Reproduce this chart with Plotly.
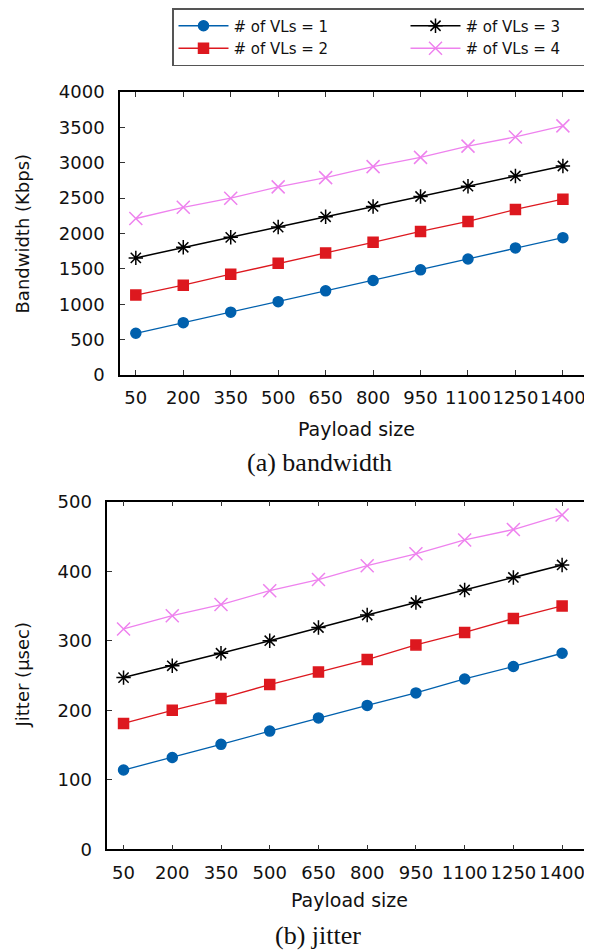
import plotly.graph_objects as go

payload = [50, 200, 350, 500, 650, 800, 950, 1100, 1250, 1400]
tick_labels = [str(p) for p in payload]

bw_vl1 = [590, 740, 888, 1037, 1190, 1336, 1486, 1640, 1796, 1941]
bw_vl2 = [1130, 1270, 1425, 1580, 1725, 1875, 2030, 2171, 2340, 2485]
bw_vl3 = [1655, 1805, 1946, 2091, 2236, 2382, 2523, 2668, 2813, 2954]
bw_vl4 = [2212, 2370, 2499, 2659, 2790, 2945, 3076, 3235, 3365, 3521]

jit_vl1 = [114, 132, 151, 170, 189, 207, 225, 245, 263, 282]
jit_vl2 = [181, 200, 217, 237, 255, 273, 294, 312, 332, 350]
jit_vl3 = [247, 264, 282, 300, 319, 337, 355, 373, 391, 409]
jit_vl4 = [317, 336, 352, 372, 388, 408, 425, 445, 460, 481]

series_names = ["# of VLs = 1", "# of VLs = 2", "# of VLs = 3", "# of VLs = 4"]
colors = ["#0060ad", "#dd181f", "#000000", "#ee82ee"]
symbols = ["circle", "square", "asterisk-open", "x-thin-open"]
msizes = [10, 10, 12, 13]
lwidths = [1.3, 1.3, 1.5, 1.3]
ranks = [1, 3, 2, 4]

# page is rendered with the default 8px body margin; work in page pixels
OFF = 8
W, H = 592 - OFF, 950 - OFF
FONT = "DejaVu Sans"

def fx(px):
    return (px - OFF) / W

def fy(py):
    return 1 - (py - OFF) / H

fig = go.Figure()

def add_series(values_list, xa, ya, show):
    for i, vals in enumerate(values_list):
        fig.add_trace(go.Scatter(
            x=payload, y=vals, name=series_names[i], mode="lines+markers",
            line=dict(color=colors[i], width=lwidths[i]),
            marker=dict(symbol=symbols[i], size=msizes[i], color=colors[i],
                        line=dict(color=colors[i], width=1.5)),
            xaxis=xa, yaxis=ya, showlegend=show, legendrank=ranks[i],
        ))

add_series([bw_vl1, bw_vl2, bw_vl3, bw_vl4], "x", "y", True)
add_series([jit_vl1, jit_vl2, jit_vl3, jit_vl4], "x2", "y2", False)

axis_common = dict(
    showline=True, linecolor="black", linewidth=1.5, mirror="ticks",
    ticks="inside", ticklen=5, tickcolor="#333333", tickwidth=1,
    showgrid=False, zeroline=False, automargin=False,
    tickfont=dict(family=FONT, size=18, color="#111111"),
)

fig.update_layout(
    width=W, height=H, autosize=False,
    margin=dict(l=0, r=0, t=0, b=0, autoexpand=False),
    paper_bgcolor="white", plot_bgcolor="white",
    font=dict(family=FONT, size=17, color="#111111"),
    xaxis=dict(domain=[fx(120), 1.0], anchor="y", range=[0, 1492],
               tickvals=payload, ticktext=tick_labels, tickangle=0,
               ticklabelstandoff=6, **axis_common),
    yaxis=dict(domain=[fy(375), fy(92)], anchor="x", range=[0, 4000], dtick=500,
               ticklabelstandoff=10, **axis_common),
    xaxis2=dict(domain=[fx(107.3), 1.0], anchor="y2", range=[0, 1492],
                tickvals=payload, ticktext=tick_labels, tickangle=0,
                ticklabelstandoff=6, **axis_common),
    yaxis2=dict(domain=[fy(849.3), fy(501.7)], anchor="x2", range=[0, 500], dtick=100,
                ticklabelstandoff=10, **axis_common),
    legend=dict(
        orientation="h", xref="container", yref="container",
        x=fx(172), y=1.0, xanchor="left", yanchor="top",
        bordercolor="#555555", borderwidth=1.5, bgcolor="white",
        entrywidth=167, entrywidthmode="pixels", itemwidth=50,
        font=dict(family=FONT, size=15, color="#111111"),
        tracegroupgap=0,
    ),
)

def ann(text, x, y, size=18, family=FONT, angle=0):
    fig.add_annotation(text=text, x=fx(x), y=fy(y), xref="paper", yref="paper",
                       showarrow=False, textangle=angle, xanchor="center", yanchor="middle",
                       font=dict(family=family, size=size, color="#111111"))

ann("Bandwidth (Kbps)", 22, 233.5, angle=-90)
ann("Payload size", 356.5, 428.7, size=19)
ann("(a) bandwidth", 319, 462, size=26, family="Liberation Serif")
ann("Jitter (µsec)", 22, 675.5, angle=-90)
ann("Payload size", 349.6, 900, size=19)
ann("(b) jitter", 318, 935, size=26, family="Liberation Serif")

fig.write_html("out.html", config={"displayModeBar": False})
